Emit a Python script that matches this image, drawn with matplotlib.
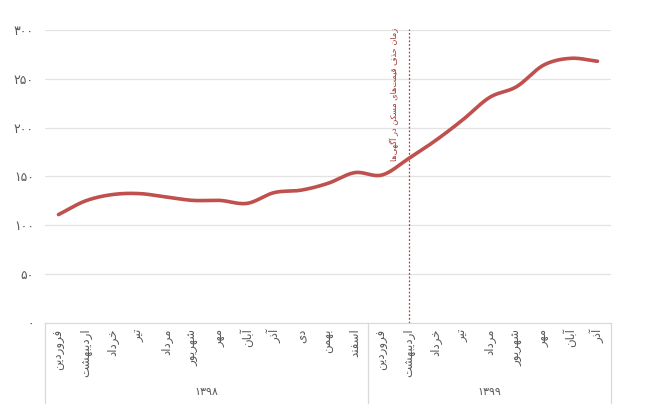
import numpy as np
import matplotlib.pyplot as plt
from matplotlib.transforms import blended_transform_factory

# data
months_1398 = ["فروردین", "اردیبهشت", "خرداد", "تیر", "مرداد", "شهریور",
               "مهر", "آبان", "آذر", "دی", "بهمن", "اسفند"]
months_1399 = months_1398[:9]
years = ["۱۳۹۸", "۱۳۹۹"]
index_values = [111, 125, 131.5, 132.5, 129, 125.5, 125.5, 122.5, 133.5, 136, 143, 154,
                151.5, 168.5, 187, 208, 231, 242, 264, 271, 268]
marker_month = 13
marker_label = "زمان حذف قیمت‌های مسکن در آگهی‌ها"
y_ticks = [0, 50, 100, 150, 200, 250, 300]

# matplotlib has no arabic shaping, so map letters to presentation forms by hand
FORMS = {
    "ا": (0xFE8D, 0xFE8E, None, None),
    "آ": (0xFE81, 0xFE82, None, None),
    "ب": (0xFE8F, 0xFE90, 0xFE91, 0xFE92),
    "پ": (0xFB56, 0xFB57, 0xFB58, 0xFB59),
    "ت": (0xFE95, 0xFE96, 0xFE97, 0xFE98),
    "ج": (0xFE9D, 0xFE9E, 0xFE9F, 0xFEA0),
    "چ": (0xFB7A, 0xFB7B, 0xFB7C, 0xFB7D),
    "ح": (0xFEA1, 0xFEA2, 0xFEA3, 0xFEA4),
    "خ": (0xFEA5, 0xFEA6, 0xFEA7, 0xFEA8),
    "د": (0xFEA9, 0xFEAA, None, None),
    "ذ": (0xFEAB, 0xFEAC, None, None),
    "ر": (0xFEAD, 0xFEAE, None, None),
    "ز": (0xFEAF, 0xFEB0, None, None),
    "ژ": (0xFB8A, 0xFB8B, None, None),
    "س": (0xFEB1, 0xFEB2, 0xFEB3, 0xFEB4),
    "ش": (0xFEB5, 0xFEB6, 0xFEB7, 0xFEB8),
    "ف": (0xFED1, 0xFED2, 0xFED3, 0xFED4),
    "ق": (0xFED5, 0xFED6, 0xFED7, 0xFED8),
    "ک": (0xFB8E, 0xFB8F, 0xFB90, 0xFB91),
    "گ": (0xFB92, 0xFB93, 0xFB94, 0xFB95),
    "ل": (0xFEDD, 0xFEDE, 0xFEDF, 0xFEE0),
    "م": (0xFEE1, 0xFEE2, 0xFEE3, 0xFEE4),
    "ن": (0xFEE5, 0xFEE6, 0xFEE7, 0xFEE8),
    "ه": (0xFEE9, 0xFEEA, 0xFEEB, 0xFEEC),
    "و": (0xFEED, 0xFEEE, None, None),
    "ی": (0xFBFC, 0xFBFD, 0xFBFE, 0xFBFF),
}


def shape(text):
    out = []
    for i, c in enumerate(text):
        if c not in FORMS:
            if c != "\u200c":
                out.append(c)
            continue
        prev = text[i - 1] if i > 0 else None
        nxt = text[i + 1] if i + 1 < len(text) else None
        f = FORMS[c]
        join_prev = prev in FORMS and FORMS[prev][2] is not None
        join_next = nxt in FORMS and f[2] is not None
        if join_prev and join_next:
            code = f[3]
        elif join_prev:
            code = f[1]
        elif join_next:
            code = f[2]
        else:
            code = f[0]
        out.append(chr(code))
    return "".join(reversed(out))


def fa_digits(n):
    return str(n).translate(str.maketrans("0123456789", "۰۱۲۳۴۵۶۷۸۹"))


def smooth(x, y, steps=20):
    # catmull-rom through the points, like the spreadsheet's smoothed line
    x = np.asarray(x, float)
    y = np.asarray(y, float)
    px = np.concatenate([[2 * x[0] - x[1]], x, [2 * x[-1] - x[-2]]])
    py = np.concatenate([[2 * y[0] - y[1]], y, [2 * y[-1] - y[-2]]])
    xs, ys = [], []
    t = np.linspace(0, 1, steps, endpoint=False)
    for i in range(1, len(px) - 2):
        for p, out in ((px, xs), (py, ys)):
            p0, p1, p2, p3 = p[i - 1], p[i], p[i + 1], p[i + 2]
            out.extend(0.5 * (2 * p1 + (-p0 + p2) * t + (2 * p0 - 5 * p1 + 4 * p2 - p3) * t ** 2
                              + (-p0 + 3 * p1 - 3 * p2 + p3) * t ** 3))
    xs.append(x[-1])
    ys.append(y[-1])
    return np.array(xs), np.array(ys)


plt.rcParams['font.family'] = ['DejaVu Sans']

labels = months_1398 + months_1399
x = np.arange(len(labels))

fig = plt.figure(figsize=(6.46, 4.13), dpi=100)
ax = fig.add_axes([0.0697, 0.2179, 0.876, 0.7095])

ax.set_ylim(0, 300)
ax.set_xlim(-0.5, len(labels) - 0.5)
ax.set_yticks(y_ticks)
ax.set_yticklabels([fa_digits(v) for v in y_ticks], color="#595959", fontsize=9)
ax.yaxis.grid(True, color="#e3e3e3", linewidth=0.9)
ax.set_axisbelow(True)
for side in ["top", "right", "left"]:
    ax.spines[side].set_visible(False)
ax.spines["bottom"].set_color("#d9d9d9")
ax.tick_params(axis="both", length=0, pad=8)

ax.set_xticks(x)
ax.set_xticklabels([shape(m) for m in labels], rotation=90, va="top", ha="center",
                   fontsize=8.5, color="#595959")
ax.tick_params(axis="x", pad=4)

sx, sy = smooth(x, index_values)
ax.plot(sx, sy, color="#C0504D", linewidth=2.6, solid_capstyle="round", zorder=3)

ax.axvline(marker_month, ymin=0, ymax=1.005, color="#b5403d", linewidth=0.9,
           linestyle=(0, (1.5, 1.5)), clip_on=False)
ax.text(marker_month - 0.55, 302, shape(marker_label), rotation=90, ha="center", va="top",
        fontsize=5.9, color="#a33431")

# year grouping boxes under the axis
trans = blended_transform_factory(ax.transData, ax.transAxes)
n1 = len(months_1398)
for sep in [-0.5, n1 - 0.5, len(labels) - 0.5]:
    ax.plot([sep, sep], [0, -0.273], transform=trans, color="#d9d9d9",
            linewidth=0.9, clip_on=False)
centers = [(n1 - 1) / 2, n1 + (len(months_1399) - 1) / 2]
for c, yr in zip(centers, years):
    ax.text(c, -0.235, yr, transform=trans, ha="center", va="center",
            fontsize=8, color="#595959")

fig.savefig("out.png", dpi=100)
